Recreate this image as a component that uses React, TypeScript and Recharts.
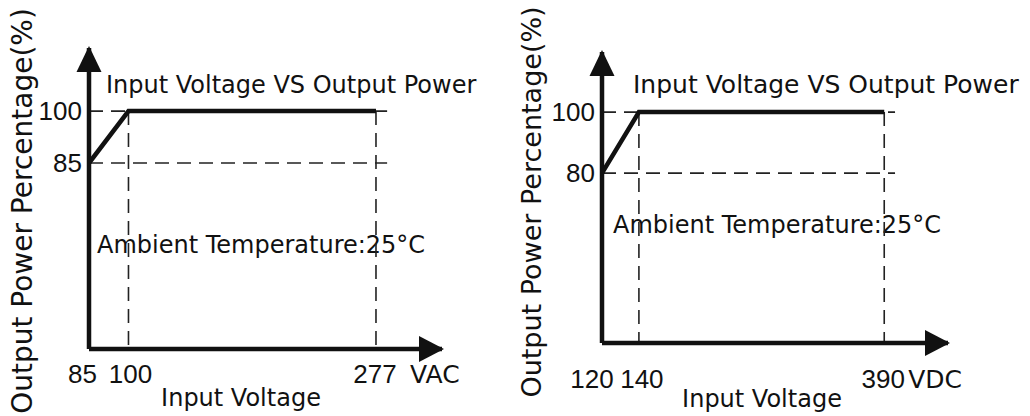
import React from 'react'
import { LineChart, Line, XAxis, YAxis, ReferenceLine, ReferenceDot } from 'recharts'

// derating curves
const acVoltage = [85, 100, 277]
const acPower = [85, 100, 100]
const dcVoltage = [120, 140, 390]
const dcPower = [80, 100, 100]

const acYTicks = [85, 100]
const dcYTicks = [80, 100]

const titleText = 'Input Voltage VS Output Power'
const yLabelText = 'Output Power Percentage(%)'
const xLabelText = 'Input Voltage'
const ambientText = 'Ambient Temperature:25°C'

const INK = '#111'
const WORD_FONT = '"DejaVu Sans", sans-serif'
const DIGIT_FONT = '"Liberation Sans", Arial, sans-serif'

const acPanel = {
  voltage: acVoltage,
  power: acPower,
  yTicks: acYTicks,
  unit: 'VAC',
  xDomain: [85, 363.5],
  yDomain: [31.35, 118.2],
  guideEnd: 290,
  margin: { top: 48, right: 73, left: 29, bottom: 37 },
  tickShifts: [-6.5, 2, -1],
  unitGap: 34,
  tickBaseline: 34,
  title: { x: 106, y: 93, size: 24 },
  yLabel: { x: 32, y: 211, size: 28 },
  xLabel: { x: 241, y: 406 },
  ambient: { x: 97, y: 253, box: [95, 227, 340, 46] }
}

const dcPanel = {
  voltage: dcVoltage,
  power: dcPower,
  yTicks: dcYTicks,
  unit: 'VDC',
  xDomain: [120, 509],
  yDomain: [24.3, 119.7],
  guideEnd: 408,
  margin: { top: 52, right: 82, left: 27, bottom: 43 },
  tickShifts: [-10, 3, -1],
  unitGap: 24,
  tickBaseline: 45,
  title: { x: 118, y: 93, size: 25 },
  yLabel: { x: 26, y: 202, size: 27 },
  xLabel: { x: 247, y: 407 },
  ambient: { x: 98, y: 233, box: [95, 207, 340, 48] }
}

const UpArrow = ({ cx, cy }: any) => (
  <path d={`M${cx},${cy - 2} L${cx - 12.5},${cy + 24} L${cx + 12.5},${cy + 24} Z`} fill={INK} />
)

const RightArrow = ({ cx, cy }: any) => (
  <path d={`M${cx + 2},${cy} L${cx - 23},${cy - 13} L${cx - 23},${cy + 13} Z`} fill={INK} />
)

const Panel = ({ cfg }: { cfg: typeof acPanel }) => {
  const data = cfg.voltage.map((v, i) => ({ v, p: cfg.power[i] }))
  const [xMin, xMax] = cfg.xDomain
  const [yMin, yMax] = cfg.yDomain
  const knee = cfg.voltage[1]
  const top = cfg.voltage[2]
  const full = cfg.power[1]
  const low = cfg.power[0]
  const last = cfg.voltage.length - 1

  const XTick = ({ x, y, payload, index }: any) => (
    <g>
      <text
        x={x + (cfg.tickShifts[index] || 0)}
        y={y + cfg.tickBaseline}
        textAnchor="middle"
        fontFamily={DIGIT_FONT}
        fontSize={26}
        fill={INK}
      >
        {payload.value}
      </text>
      {index === last && (
        <text x={x + cfg.unitGap} y={y + cfg.tickBaseline} fontFamily={WORD_FONT} fontSize={25} fill={INK}>
          {cfg.unit}
        </text>
      )}
    </g>
  )

  const YTick = ({ x, y, payload }: any) => (
    <text x={x} y={y} dy="0.36em" textAnchor="end" fontFamily={DIGIT_FONT} fontSize={26} fill={INK}>
      {payload.value}
    </text>
  )

  const dash = { stroke: '#222', strokeWidth: 1.6, strokeDasharray: '14 8' }

  return (
    <LineChart width={515} height={416} data={data} margin={cfg.margin}>
      <XAxis
        dataKey="v"
        type="number"
        scale="log"
        domain={cfg.xDomain}
        ticks={cfg.voltage}
        allowDataOverflow
        interval={0}
        tickLine={false}
        tickSize={0}
        tickMargin={0}
        axisLine={{ stroke: INK, strokeWidth: 4.5 }}
        tick={XTick}
      />
      <YAxis
        type="number"
        domain={cfg.yDomain}
        ticks={cfg.yTicks}
        allowDataOverflow
        interval={0}
        width={60}
        tickLine={false}
        tickSize={0}
        tickMargin={7}
        axisLine={{ stroke: INK, strokeWidth: 4.5 }}
        tick={YTick}
      />
      <ReferenceLine segment={[{ x: xMin, y: full }, { x: cfg.guideEnd, y: full }]} {...dash} />
      <ReferenceLine segment={[{ x: xMin, y: low }, { x: cfg.guideEnd, y: low }]} {...dash} />
      <ReferenceLine segment={[{ x: knee, y: full }, { x: knee, y: yMin }]} {...dash} />
      <ReferenceLine segment={[{ x: top, y: full }, { x: top, y: yMin }]} {...dash} />
      <rect
        x={cfg.ambient.box[0]}
        y={cfg.ambient.box[1]}
        width={cfg.ambient.box[2]}
        height={cfg.ambient.box[3]}
        fill="#fff"
      />
      <text x={cfg.ambient.x} y={cfg.ambient.y} fontFamily={WORD_FONT} fontSize={24} fill={INK}>
        {ambientText}
      </text>
      <Line
        type="linear"
        dataKey="p"
        stroke={INK}
        strokeWidth={4.5}
        strokeLinejoin="miter"
        dot={false}
        activeDot={false}
        isAnimationActive={false}
      />
      <ReferenceDot x={xMin} y={yMax} r={1} ifOverflow="visible" shape={UpArrow} />
      <ReferenceDot x={xMax} y={yMin} r={1} ifOverflow="visible" shape={RightArrow} />
      <text x={cfg.title.x} y={cfg.title.y} fontFamily={WORD_FONT} fontSize={cfg.title.size} fill={INK}>
        {titleText}
      </text>
      <text x={cfg.xLabel.x} y={cfg.xLabel.y} textAnchor="middle" fontFamily={WORD_FONT} fontSize={24} fill={INK}>
        {xLabelText}
      </text>
      <text
        x={cfg.yLabel.x}
        y={cfg.yLabel.y}
        transform={`rotate(-90 ${cfg.yLabel.x} ${cfg.yLabel.y})`}
        textAnchor="middle"
        fontFamily={WORD_FONT}
        fontSize={cfg.yLabel.size}
        fill={INK}
      >
        {yLabelText}
      </text>
    </LineChart>
  )
}

export default function App() {
  return (
    <div
      style={{
        position: 'absolute',
        left: 0,
        top: 0,
        width: 1030,
        height: 416,
        display: 'flex',
        background: '#fff'
      }}
    >
      <Panel cfg={acPanel} />
      <Panel cfg={dcPanel} />
    </div>
  )
}
